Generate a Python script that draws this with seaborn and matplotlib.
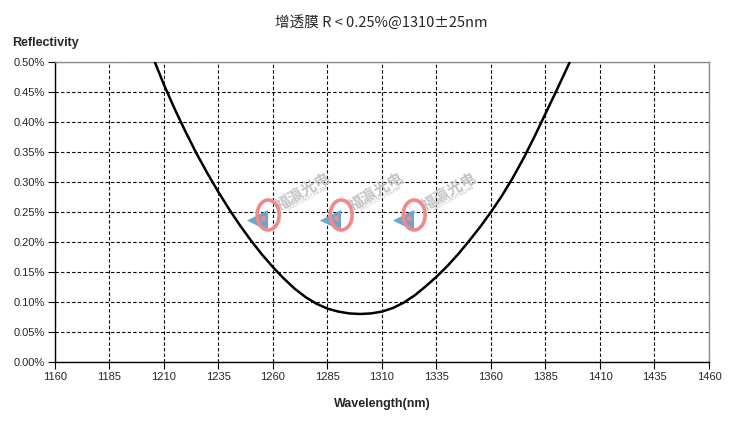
import numpy as np
import pandas as pd
import matplotlib
matplotlib.use('Agg')
import matplotlib.pyplot as plt
import seaborn as sns
from matplotlib.patches import Ellipse
from matplotlib.ticker import MultipleLocator, FuncFormatter

# 反射率曲线数据 (nm, %)
wavelength = [1200, 1205, 1210, 1215, 1220, 1225, 1230, 1235, 1240, 1245,
              1250, 1255, 1260, 1265, 1270, 1275, 1280, 1285, 1290, 1295,
              1300, 1305, 1310, 1315, 1320, 1325, 1330, 1335, 1340, 1345,
              1350, 1355, 1360, 1365, 1370, 1375, 1380, 1385, 1390, 1395, 1400]
reflectivity = [0.556, 0.507, 0.462, 0.421, 0.383, 0.347, 0.314, 0.283, 0.254, 0.227,
                0.202, 0.179, 0.158, 0.139, 0.122, 0.108, 0.097, 0.089, 0.084, 0.081,
                0.080, 0.081, 0.084, 0.090, 0.099, 0.111, 0.126, 0.142, 0.160, 0.180,
                0.202, 0.225, 0.250, 0.277, 0.307, 0.340, 0.376, 0.414, 0.452, 0.491, 0.530]

x_ticks = list(range(1160, 1461, 25))
title = '增透膜 R < 0.25%@1310±25nm'
watermark = '福瀛光电'

sns.set_style('white')
plt.rcParams['font.family'] = ['Liberation Sans', 'Noto Sans CJK SC', 'DejaVu Sans']

df = pd.DataFrame({'wl': wavelength, 'R': reflectivity})

fig = plt.figure(figsize=(7.31, 4.24), dpi=100)
ax = fig.add_axes([0.0752, 0.1462, 0.8947, 0.7076])

ax.grid(True, color='black', linestyle=(0, (3, 2)), linewidth=0.8)
ax.set_axisbelow(True)

# 水印 (三个logo)
for i in range(3):
    dx = i * 0.1116
    ax.text(0.379 + dx, 0.567, watermark, transform=ax.transAxes, rotation=30,
            fontsize=11, color='#c4c4c4', ha='center', va='center',
            family=['Noto Sans CJK SC'], fontweight='bold', zorder=1.5)
    ax.text(0.387 + dx, 0.545, 'PHOTONSTREAM', transform=ax.transAxes, rotation=30,
            fontsize=4, color='#c4c4c4', ha='center', va='center', zorder=1.5)
    ax.scatter([0.309 + dx], [0.475], transform=ax.transAxes, s=230, marker='<',
               color='#6aa6d2', linewidths=0, zorder=1.55)
    ax.add_patch(Ellipse((0.326 + dx, 0.49), 0.0336, 0.1, transform=ax.transAxes,
                         fill=False, edgecolor='#f08a8a', linewidth=2.6, zorder=1.6))
    ax.scatter([0.318 + dx], [0.48], transform=ax.transAxes, s=8, marker='o',
               color='#f08a8a', zorder=1.6)

sns.lineplot(data=df, x='wl', y='R', ax=ax, color='black', linewidth=1.8,
             zorder=3, estimator=None)

ax.set_xlim(1160, 1460)
ax.set_ylim(0, 0.5)
ax.set_xticks(x_ticks)
ax.yaxis.set_major_locator(MultipleLocator(0.05))
ax.yaxis.set_major_formatter(FuncFormatter(lambda v, p: f'{v:.2f}%'))
ax.tick_params(axis='both', which='major', labelsize=8, length=5, width=0.8,
               direction='out', color='black', left=True, bottom=True, pad=2)

for s in ['left', 'bottom']:
    ax.spines[s].set_color('black')
    ax.spines[s].set_linewidth(1.0)
for s in ['top', 'right']:
    ax.spines[s].set_color('#8c8c8c')
    ax.spines[s].set_linewidth(1.0)

ax.set_xlabel('Wavelength(nm)', fontsize=9, fontweight='bold', labelpad=12)
ax.set_ylabel('')
fig.text(0.522, 0.948, title, ha='center', va='center', fontsize=10.5,
         family=['Noto Sans CJK SC', 'DejaVu Sans'])
fig.text(0.016, 0.898, 'Reflectivity', ha='left', va='center', fontsize=9,
         fontweight='bold')

fig.savefig('out.png', dpi=100)
